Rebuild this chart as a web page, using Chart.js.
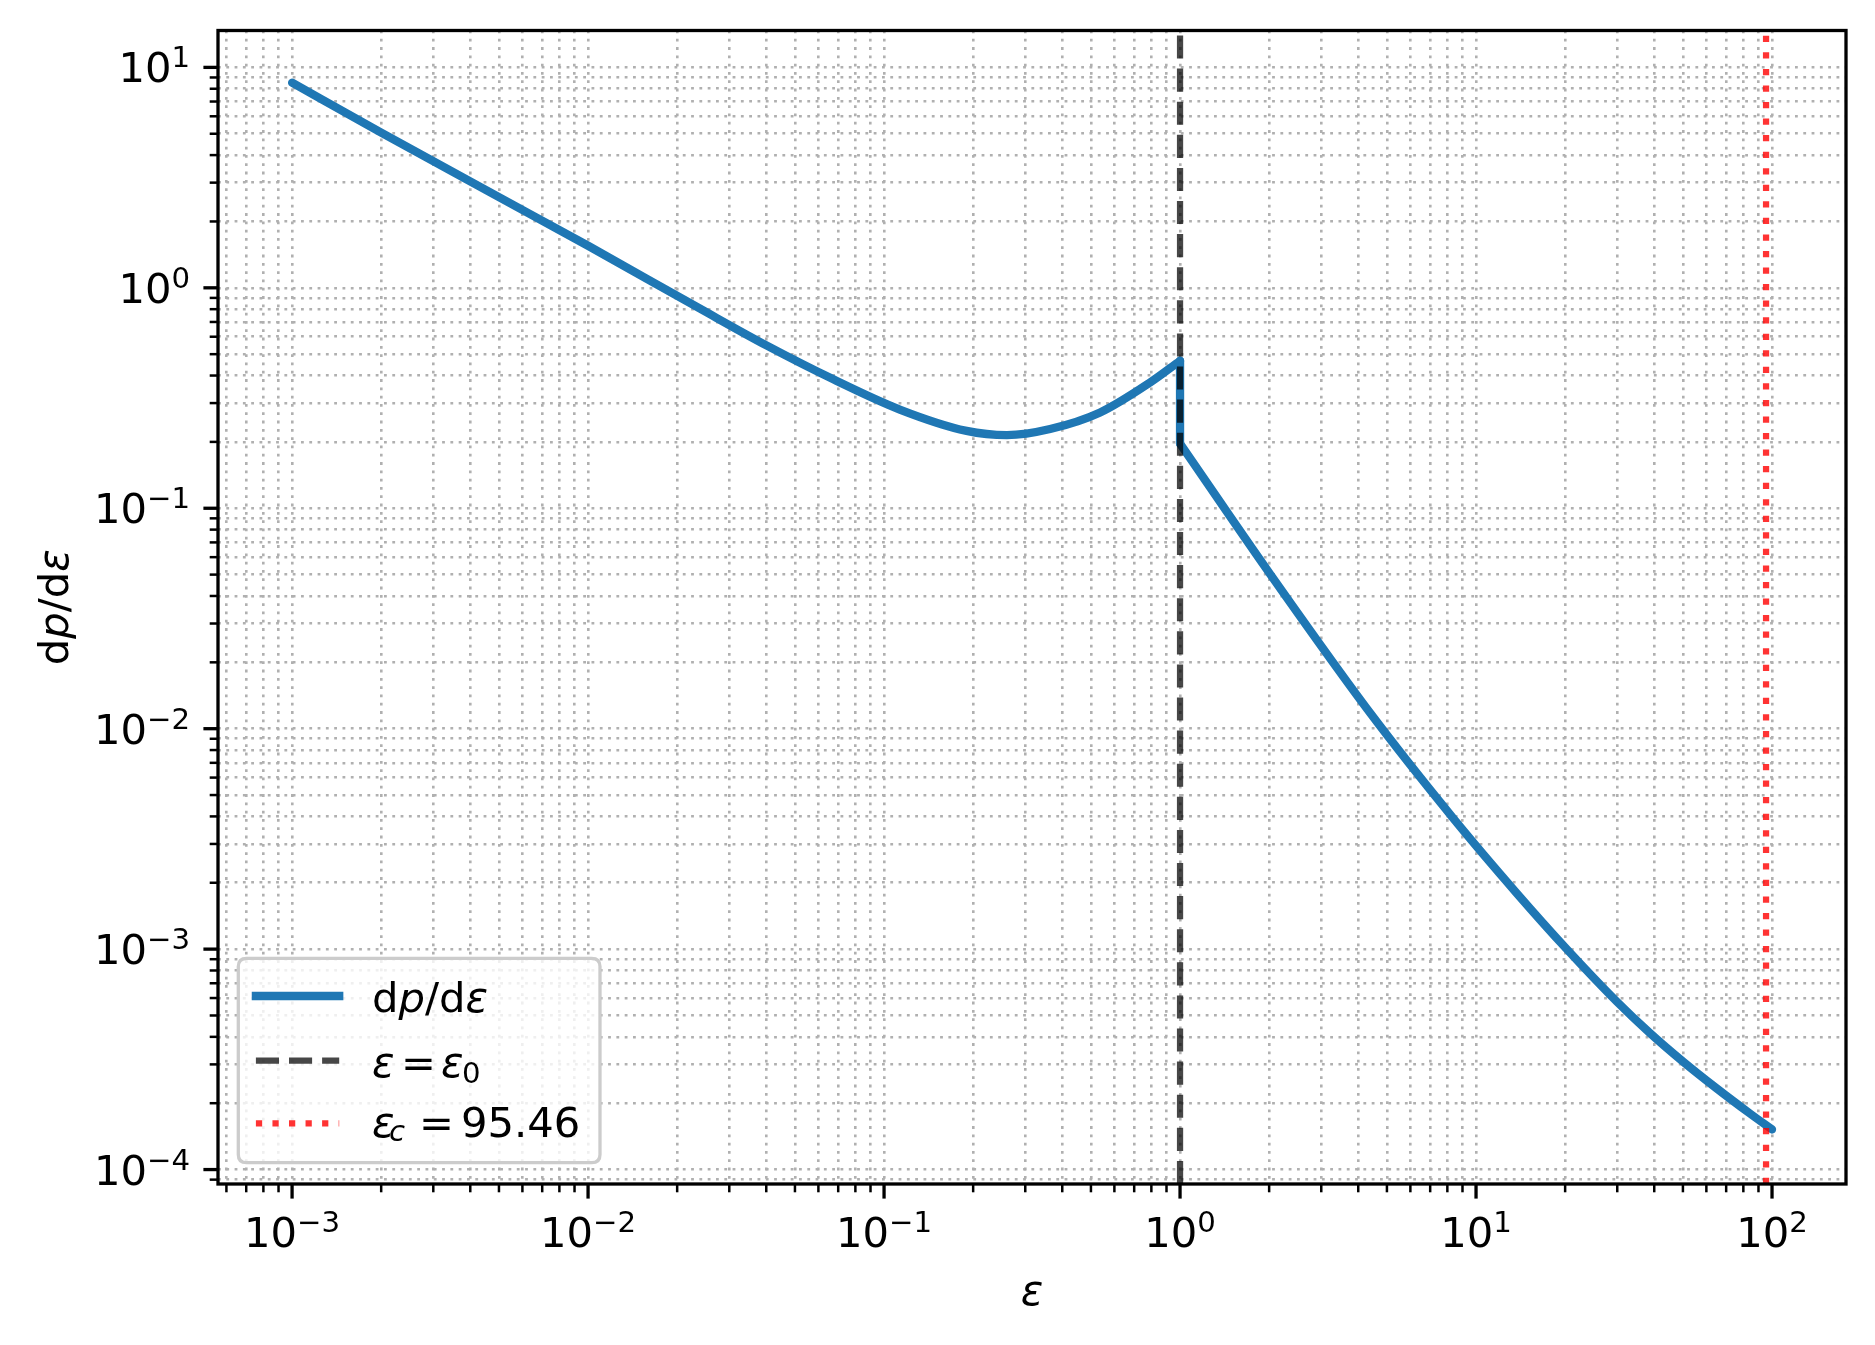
<!DOCTYPE html>
<html>
<head>
<meta charset="utf-8">
<script src="https://cdn.jsdelivr.net/npm/chart.js@4.4.0/dist/chart.umd.min.js"></script>
<style>
  html, body { margin: 0; padding: 0; background: #ffffff; }
  #wrap { width: 1875px; height: 1345px; position: relative; }
</style>
</head>
<body>
<div id="wrap"><canvas id="c" width="1875" height="1345"></canvas></div>
<script>
// ---------------- data ----------------
const eps  = [0.001, 0.002, 0.005, 0.01, 0.0239, 0.0402, 0.0674, 0.113, 0.19, 0.26, 0.364, 0.537, 0.792, 1.0,
              1.0, 2.01, 4.39, 8.38, 13.7, 20.2, 29.9, 38.7, 50.1, 65.0, 84.2, 100];
const dpde = [8.52, 5.06, 2.58, 1.552, 0.804, 0.5465, 0.3845, 0.2805, 0.2244, 0.2147, 0.2288, 0.272, 0.372, 0.4667,
              0.1963, 0.0505, 0.01177, 0.003919, 0.001799, 0.001004, 0.000578, 0.000416, 0.0003085, 0.0002335, 0.0001796, 0.000152];
const epsZero = 1;
const epsCrit = 95.46;
const xTickExps = [-3, -2, -1, 0, 1, 2];
const yTickExps = [-4, -3, -2, -1, 0, 1];
const xRange = [5.62e-4, 177.8];
const yRange = [8.6e-5, 14.7];
const legendNames = ['dp/dε', 'ε = ε0', 'εc = 95.46'];

// ---------------- styles ----------------
const BLUE = '#1f77b4';
const DASH_COL = 'rgba(0,0,0,0.72)';
const RED_COL = 'rgba(255,0,0,0.8)';
const FONT = '"DejaVu Sans", "Liberation Sans", sans-serif';
const FS = 41.7, FSS = 29.2;

const pts = eps.map((e, i) => ({ x: e, y: dpde[i] }));
const jump = eps.findIndex((e, i) => i > 0 && e === eps[i - 1]);
const partA = pts.slice(0, jump);
const partV = pts.slice(jump - 1, jump + 1);
const partB = pts.slice(jump);

function logTicks(min, max) {
  const out = [];
  for (let e = Math.floor(Math.log10(min)); e <= Math.ceil(Math.log10(max)); e++) {
    for (let k = 1; k <= 9; k++) {
      const v = k * Math.pow(10, e);
      if (v >= min && v <= max) out.push({ value: v, major: k === 1 });
    }
  }
  return out;
}

function drawPow(ctx, exp, x, yBase, align) {
  const main = '10';
  const sup = exp < 0 ? '\u2212' + (-exp) : String(exp);
  ctx.font = FS + 'px ' + FONT;
  const wm = ctx.measureText(main).width;
  ctx.font = FSS + 'px ' + FONT;
  const ws = ctx.measureText(sup).width;
  const total = wm + ws;
  const x0 = align === 'center' ? x - total / 2 : x - total;
  ctx.textAlign = 'left';
  ctx.textBaseline = 'alphabetic';
  ctx.fillStyle = '#000';
  ctx.font = FS + 'px ' + FONT;
  ctx.fillText(main, x0, yBase);
  ctx.font = FSS + 'px ' + FONT;
  ctx.fillText(sup, x0 + wm, yBase - 15);
}

function runsWidth(ctx, runs) {
  let w = 0;
  runs.forEach(r => { ctx.font = (r.it ? 'italic ' : '') + (r.size || FS) + 'px ' + FONT; w += ctx.measureText(r.t).width + (r.gap || 0); });
  return w;
}
function drawRuns(ctx, runs, x, y) {
  let cx = x;
  runs.forEach(r => {
    ctx.font = (r.it ? 'italic ' : '') + (r.size || FS) + 'px ' + FONT;
    ctx.fillText(r.t, cx, y + (r.dy || 0));
    cx += ctx.measureText(r.t).width + (r.gap || 0);
  });
}

function seg(ctx, x1, y1, x2, y2) { ctx.beginPath(); ctx.moveTo(x1, y1); ctx.lineTo(x2, y2); ctx.stroke(); }

const decor = {
  id: 'decor',
  afterDraw(chart) {
    const { ctx, chartArea: ca } = chart;
    const xs = chart.scales.x, ys = chart.scales.y;
    ctx.save();
    // spines
    ctx.setLineDash([]);
    ctx.strokeStyle = '#000';
    ctx.lineWidth = 3.3;
    ctx.strokeRect(ca.left, ca.top, ca.right - ca.left, ca.bottom - ca.top);
    // ticks
    ctx.lineCap = 'butt';
    xs.ticks.forEach(t => {
      const px = xs.getPixelForValue(t.value);
      ctx.lineWidth = t.major ? 3.3 : 2.5;
      seg(ctx, px, ca.bottom, px, ca.bottom + (t.major ? 14.6 : 8.3));
    });
    ys.ticks.forEach(t => {
      const py = ys.getPixelForValue(t.value);
      ctx.lineWidth = t.major ? 3.3 : 2.5;
      seg(ctx, ca.left, py, ca.left - (t.major ? 14.6 : 8.3), py);
    });
    // tick labels
    xTickExps.forEach(e => drawPow(ctx, e, xs.getPixelForValue(Math.pow(10, e)), 1247, 'center'));
    yTickExps.forEach(e => drawPow(ctx, e, 190, ys.getPixelForValue(Math.pow(10, e)) + 15, 'right'));
    // axis titles
    ctx.fillStyle = '#000';
    ctx.textAlign = 'left';
    ctx.textBaseline = 'alphabetic';
    const xt = [{ t: 'ε', it: true }];
    const xw = runsWidth(ctx, xt);
    drawRuns(ctx, xt, (ca.left + ca.right) / 2 - xw / 2, 1305);
    const yt = [{ t: 'd' }, { t: 'p', it: true }, { t: '/' }, { t: 'd' }, { t: 'ε', it: true }];
    const yw = runsWidth(ctx, yt);
    ctx.save();
    ctx.translate(68, (ca.top + ca.bottom) / 2);
    ctx.rotate(-Math.PI / 2);
    drawRuns(ctx, yt, -yw / 2, 0);
    ctx.restore();
    // legend
    const bx = 238.3, by = 958.3, bw = 361.7, bh = 204.4, r = 8.3;
    ctx.beginPath();
    ctx.moveTo(bx + r, by);
    ctx.lineTo(bx + bw - r, by); ctx.quadraticCurveTo(bx + bw, by, bx + bw, by + r);
    ctx.lineTo(bx + bw, by + bh - r); ctx.quadraticCurveTo(bx + bw, by + bh, bx + bw - r, by + bh);
    ctx.lineTo(bx + r, by + bh); ctx.quadraticCurveTo(bx, by + bh, bx, by + bh - r);
    ctx.lineTo(bx, by + r); ctx.quadraticCurveTo(bx, by, bx + r, by);
    ctx.closePath();
    ctx.fillStyle = 'rgba(255,255,255,0.8)';
    ctx.fill();
    ctx.strokeStyle = '#cccccc';
    ctx.lineWidth = 3.3;
    ctx.stroke();
    const hx1 = 255.9, hx2 = 339.2;
    const rows = [996, 1060.7, 1123.3];
    ctx.strokeStyle = BLUE; ctx.lineWidth = 8.3; ctx.lineCap = 'square'; ctx.setLineDash([]);
    seg(ctx, hx1, rows[0], hx2, rows[0]);
    ctx.strokeStyle = DASH_COL; ctx.lineWidth = 6.25; ctx.lineCap = 'butt'; ctx.setLineDash([23.1, 10]);
    seg(ctx, hx1, rows[1], hx2, rows[1]);
    ctx.strokeStyle = RED_COL; ctx.setLineDash([6.25, 10.3]);
    seg(ctx, hx1, rows[2], hx2, rows[2]);
    ctx.setLineDash([]);
    ctx.fillStyle = '#000';
    drawRuns(ctx, [{ t: 'd' }, { t: 'p', it: true }, { t: '/' }, { t: 'd' }, { t: 'ε', it: true }], 372, 1011.5);
    ctx.font = 'italic ' + FS + 'px ' + FONT; ctx.fillText('ε', 372, 1076.5);
    ctx.font = FS + 'px ' + FONT; ctx.fillText('=', 401, 1076.5);
    ctx.font = 'italic ' + FS + 'px ' + FONT; ctx.fillText('ε', 441, 1076.5);
    ctx.font = FSS + 'px ' + FONT; ctx.fillText('0', 462, 1082.5);
    ctx.font = 'italic ' + FS + 'px ' + FONT; ctx.fillText('ε', 372, 1136.7);
    ctx.font = 'italic ' + FSS + 'px ' + FONT; ctx.fillText('c', 389, 1141);
    ctx.font = FS + 'px ' + FONT; ctx.fillText('=', 419, 1136.7);
    ctx.font = FS + 'px ' + FONT; ctx.fillText(epsCrit.toFixed(2), 461, 1136.7);
    ctx.restore();
  }
};

const curveStyle = { borderColor: BLUE, backgroundColor: BLUE, borderWidth: 8.3, pointRadius: 0, pointHoverRadius: 0,
  fill: false, borderJoinStyle: 'round', borderCapStyle: 'round', order: 3 };

new Chart(document.getElementById('c'), {
  type: 'line',
  data: {
    datasets: [
      Object.assign({ label: legendNames[0], data: partA, cubicInterpolationMode: 'monotone' }, curveStyle),
      Object.assign({ label: legendNames[0] + ' jump', data: partV, tension: 0 }, curveStyle),
      Object.assign({ label: legendNames[0] + ' tail', data: partB, cubicInterpolationMode: 'monotone' }, curveStyle),
      { label: legendNames[1], data: [{ x: epsZero, y: yRange[0] }, { x: epsZero, y: yRange[1] }],
        borderColor: DASH_COL, borderWidth: 6.25, borderDash: [23.1, 10], borderCapStyle: 'butt',
        pointRadius: 0, tension: 0, order: 2 },
      { label: legendNames[2], data: [{ x: epsCrit, y: yRange[0] }, { x: epsCrit, y: yRange[1] }],
        borderColor: RED_COL, borderWidth: 6.25, borderDash: [6.25, 10.3], borderCapStyle: 'butt',
        pointRadius: 0, tension: 0, order: 1 }
    ]
  },
  options: {
    responsive: false,
    animation: false,
    devicePixelRatio: 1,
    layout: { padding: { left: 0, right: 29, top: 30.5, bottom: 0 } },
    plugins: { legend: { display: false }, tooltip: { enabled: false } },
    events: [],
    scales: {
      x: {
        type: 'logarithmic', min: xRange[0], max: xRange[1],
        afterBuildTicks: s => { s.ticks = logTicks(xRange[0], xRange[1]); },
        afterFit: s => { s.height = 161; },
        ticks: { display: false, autoSkip: false },
        grid: { color: '#b0b0b0', lineWidth: 2.6, drawTicks: false },
        border: { display: false, dash: [2.8, 5.5] }
      },
      y: {
        type: 'logarithmic', min: yRange[0], max: yRange[1],
        afterBuildTicks: s => { s.ticks = logTicks(yRange[0], yRange[1]); },
        afterFit: s => { s.width = 218; },
        ticks: { display: false, autoSkip: false },
        grid: { color: '#b0b0b0', lineWidth: 2.6, drawTicks: false },
        border: { display: false, dash: [2.8, 5.5] }
      }
    }
  },
  plugins: [decor]
});
</script>
</body>
</html>
